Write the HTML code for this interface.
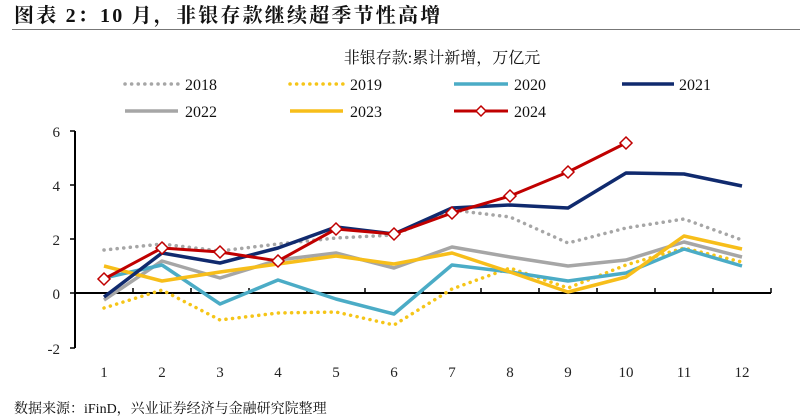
<!DOCTYPE html>
<html><head><meta charset="utf-8"><style>
body{margin:0;background:#fff;}
svg{display:block;}
</style></head><body>
<svg width="800" height="419" xmlns="http://www.w3.org/2000/svg" font-family="'Liberation Serif','Noto Serif CJK SC',serif">
<rect width="800" height="419" fill="#fff"/>
<text x="14" y="22" font-size="20" font-weight="bold" fill="#111" letter-spacing="2.2">图表 2：10 月，非银存款继续超季节性高增</text>
<line x1="12" y1="29.5" x2="800" y2="29.5" stroke="#777" stroke-width="1"/>
<text x="442" y="63" font-size="16" text-anchor="middle" fill="#111">非银存款:累计新增，万亿元</text>
<g font-size="16" fill="#111">
<line x1="125" y1="84" x2="178" y2="84" stroke="#a6a6a6" stroke-width="3.5" stroke-dasharray="0.1 6.5" stroke-linecap="round"/><text x="185" y="90">2018</text>
<line x1="290" y1="84" x2="343" y2="84" stroke="#f5c518" stroke-width="3.5" stroke-dasharray="0.1 6.5" stroke-linecap="round"/><text x="350" y="90">2019</text>
<line x1="454" y1="84" x2="508" y2="84" stroke="#4bacc6" stroke-width="3.5"/><text x="514" y="90">2020</text>
<line x1="622" y1="84" x2="674" y2="84" stroke="#102a6e" stroke-width="3.5"/><text x="679" y="90">2021</text>
<line x1="125" y1="111" x2="178" y2="111" stroke="#a6a6a6" stroke-width="3.5"/><text x="185" y="117">2022</text>
<line x1="290" y1="111" x2="343" y2="111" stroke="#f7be1a" stroke-width="3.5"/><text x="350" y="117">2023</text>
<line x1="454" y1="111" x2="508" y2="111" stroke="#c00000" stroke-width="3"/><path d="M481 106 L486 111 L481 116 L476 111Z" fill="#fff" stroke="#c00000" stroke-width="1.5"/><text x="514" y="117">2024</text>
</g>
<g stroke="#000" stroke-width="2">
<line x1="75" y1="131" x2="75" y2="348"/>
<line x1="75" y1="293" x2="771" y2="293"/>
</g>
<g stroke="#000" stroke-width="1.5">
<line x1="70" y1="131" x2="75" y2="131"/><line x1="70" y1="185" x2="75" y2="185"/><line x1="70" y1="239" x2="75" y2="239"/><line x1="70" y1="293" x2="75" y2="293"/><line x1="70" y1="348" x2="75" y2="348"/>
<line x1="133" y1="288" x2="133" y2="293"/><line x1="191" y1="288" x2="191" y2="293"/><line x1="249" y1="288" x2="249" y2="293"/><line x1="307" y1="288" x2="307" y2="293"/><line x1="365" y1="288" x2="365" y2="293"/><line x1="423" y1="288" x2="423" y2="293"/><line x1="481" y1="288" x2="481" y2="293"/><line x1="539" y1="288" x2="539" y2="293"/><line x1="597" y1="288" x2="597" y2="293"/><line x1="655" y1="288" x2="655" y2="293"/><line x1="713" y1="288" x2="713" y2="293"/><line x1="771" y1="288" x2="771" y2="293"/>
</g>
<g font-size="15" fill="#222" text-anchor="end">
<text x="60" y="137">6</text><text x="60" y="191">4</text><text x="60" y="245">2</text><text x="60" y="299">0</text><text x="60" y="354">-2</text>
</g>
<g font-size="15" fill="#222" text-anchor="middle">
<text x="104" y="377">1</text><text x="162" y="377">2</text><text x="220" y="377">3</text><text x="278" y="377">4</text><text x="336" y="377">5</text><text x="394" y="377">6</text><text x="452" y="377">7</text><text x="510" y="377">8</text><text x="568" y="377">9</text><text x="626" y="377">10</text><text x="684" y="377">11</text><text x="742" y="377">12</text>
</g>
<g fill="none" stroke-linejoin="round">
<polyline stroke="#a6a6a6" stroke-width="3.5" stroke-dasharray="0.1 6.5" stroke-linecap="round" points="104,250 162,244 220,251 278,244 336,238 394,235 452,210 510,217 568,243 626,228 684,219 742,240"/>
<polyline stroke="#f5c518" stroke-width="3.5" stroke-dasharray="0.1 6.5" stroke-linecap="round" points="104,308 162,290 220,320 278,313 336,312 394,325 452,289 510,268 568,288 626,265 684,248 742,262"/>
<polyline stroke="#a6a6a6" stroke-width="3.5" points="104,300 162,261 220,278 278,260 336,253 394,268 452,247 510,257 568,266 626,260 684,242 742,257"/>
<polyline stroke="#4bacc6" stroke-width="3.5" points="104,278 162,265 220,304 278,280 336,299 394,314 452,265 510,272 568,281 626,273 684,249 742,266"/>
<polyline stroke="#f7be1a" stroke-width="3.5" points="104,266 162,281 220,272 278,264 336,256 394,264 452,253 510,272 568,292 626,277 684,236 742,249"/>
<polyline stroke="#102a6e" stroke-width="3.5" points="104,297 162,253 220,263 278,248 336,227 394,234 452,208 510,205 568,208 626,173 684,174 742,186"/>
<polyline stroke="#c00000" stroke-width="3" points="104,279 162,248 220,252 278,261 336,229 394,234 452,213 510,196 568,172 626,143"/>
</g>
<g fill="#fff" stroke="#c00000" stroke-width="1.5">
<path d="M104 273l6 6-6 6-6-6z"/><path d="M162 242l6 6-6 6-6-6z"/><path d="M220 246l6 6-6 6-6-6z"/><path d="M278 255l6 6-6 6-6-6z"/><path d="M336 223l6 6-6 6-6-6z"/><path d="M394 228l6 6-6 6-6-6z"/><path d="M452 207l6 6-6 6-6-6z"/><path d="M510 190l6 6-6 6-6-6z"/><path d="M568 166l6 6-6 6-6-6z"/><path d="M626 137l6 6-6 6-6-6z"/>
</g>
<text x="14" y="413" font-size="14" fill="#111">数据来源：iFinD，兴业证券经济与金融研究院整理</text>
</svg>
</body></html>
